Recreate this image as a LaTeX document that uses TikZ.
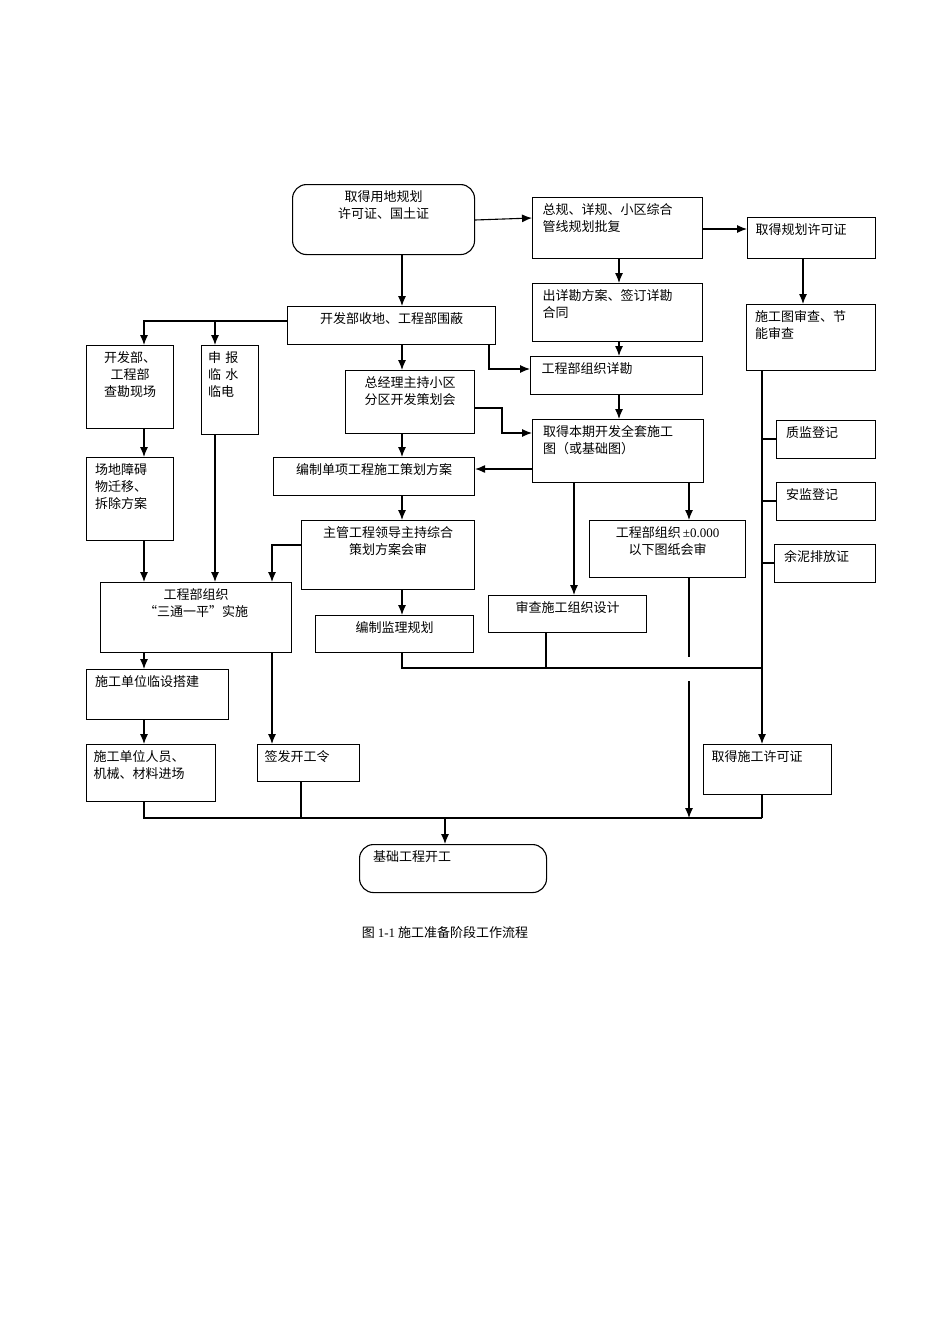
\documentclass[tikz,border=0pt]{standalone}
\usepackage{fontspec}
\setmainfont{Liberation Serif}
\newfontfamily\cjk{Noto Sans CJK SC}
\usetikzlibrary{arrows.meta}
\tikzset{
  box/.style={draw,line width=1.1pt,inner sep=0pt,anchor=north west},
  rbox/.style={box,rounded corners=14pt},
  lab/.style={anchor=north,yshift=-3pt,font=\cjk\fontsize{13}{17}\selectfont},
  arr/.style={line width=1.1pt,-{Latex[length=10pt,width=8pt]}},
  ln/.style={line width=1.1pt}
}
\begin{document}
\begin{tikzpicture}[x=1pt,y=-1pt]
\useasboundingbox (0,0) rectangle (950,1344);
% boxes
\node[rbox,minimum width=182,minimum height=70,label={[lab,align=center]north:取得用地规划\\许可证、国土证}] (yd) at (292,184) {};
\node[box,minimum width=170,minimum height=61,label={[lab,text width=150,align=left]north:总规、详规、小区综合\\管线规划批复}] (zg) at (532,197) {};
\node[box,minimum width=128,minimum height=41,label={[lab,text width=112,align=left]north:取得规划许可证}] (gh) at (747,217) {};
\node[box,minimum width=170,minimum height=58,label={[lab,text width=150,align=left]north:出详勘方案、签订详勘\\合同}] (xk) at (532,283) {};
\node[box,minimum width=129,minimum height=66,label={[lab,text width=112,align=left]north:施工图审查、节\\能审查}] (sc) at (746,304) {};
\node[box,minimum width=208,minimum height=38,label={[lab,align=center]north:开发部收地、工程部围蔽}] (sd) at (287,306) {};
\node[box,minimum width=87,minimum height=83,label={[lab,align=center]north:开发部、\\工程部\\查勘现场}] (kc) at (86,345) {};
\node[box,minimum width=57,minimum height=89,label={[lab,text width=44,align=left]north:申\ 报\\临\ 水\\临电}] (sb) at (201,345) {};
\node[box,minimum width=172,minimum height=38,label={[lab,text width=150,align=left]north:工程部组织详勘}] (zk) at (530,356) {};
\node[box,minimum width=129,minimum height=63,label={[lab,align=center]north:总经理主持小区\\分区开发策划会}] (ch) at (345,370) {};
\node[box,minimum width=171,minimum height=63,label={[lab,text width=150,align=left]north:取得本期开发全套施工\\图（或基础图）}] (qt) at (532,419) {};
\node[box,minimum width=201,minimum height=38,label={[lab,align=center]north:编制单项工程施工策划方案}] (dx) at (273,457) {};
\node[box,minimum width=87,minimum height=83,label={[lab,text width=70,align=left]north:场地障碍\\物迁移、\\拆除方案}] (za) at (86,457) {};
\node[box,minimum width=99,minimum height=38,label={[lab,text width=80,align=left]north:质监登记}] (zj) at (776,420) {};
\node[box,minimum width=99,minimum height=38,label={[lab,text width=80,align=left]north:安监登记}] (aj) at (776,482) {};
\node[box,minimum width=101,minimum height=38,label={[lab,text width=82,align=left]north:余泥排放证}] (yn) at (774,544) {};
\node[box,minimum width=173,minimum height=69,label={[lab,align=center]north:主管工程领导主持综合\\策划方案会审}] (hs) at (301,520) {};
\node[box,minimum width=156,minimum height=57,label={[lab,align=center]north:{工程部组织\,{\rmfamily ±0.000}}\\以下图纸会审}] (tz) at (589,520) {};
\node[box,minimum width=191,minimum height=70,label={[lab,align=center]north:工程部组织\\“三通一平”实施}] (st) at (100,582) {};
\node[box,minimum width=158,minimum height=37,label={[lab,align=center]north:审查施工组织设计}] (zz) at (488,595) {};
\node[box,minimum width=158,minimum height=37,label={[lab,align=center]north:编制监理规划}] (jl) at (315,615) {};
\node[box,minimum width=142,minimum height=50,label={[lab,text width=125,align=left]north:施工单位临设搭建}] (ls) at (86,669) {};
\node[box,minimum width=129,minimum height=57,label={[lab,text width=115,align=left]north:施工单位人员、\\机械、材料进场}] (jc) at (86,744) {};
\node[box,minimum width=102,minimum height=37,label={[lab,text width=88,align=left]north:签发开工令}] (kg) at (257,744) {};
\node[box,minimum width=128,minimum height=50,label={[lab,text width=112,align=left]north:取得施工许可证}] (xz) at (703,744) {};
\node[rbox,minimum width=187,minimum height=48,label={[lab,text width=160,align=left]north:基础工程开工}] (jg) at (359,844) {};
\coordinate (mid) at (445,818);
% connectors
\draw[arr] (yd.south -| 402,0) -- (sd.north -| 402,0);
\draw[arr] (yd.east |- 0,220) -- (zg.west |- 0,218);
\draw[arr] (zg.east |- 0,229) -- (gh.west |- 0,229);
\draw[arr] (zg.south -| 619,0) -- (xk.north -| 619,0);
\draw[arr] (gh.south -| 803,0) -- (sc.north -| 803,0);
\draw[arr] (xk.south -| 619,0) -- (zk.north -| 619,0);
\draw[arr] (sd.west |- 0,321) -- (144,321) -- (kc.north -| 144,0);
\draw[arr] (215,321) -- (sb.north -| 215,0);
\draw[arr] (sd.south -| 402,0) -- (ch.north -| 402,0);
\draw[arr] (sd.south -| 489,0) -- (489,369) -- (zk.west |- 0,369);
\draw[arr] (ch.east |- 0,408) -- (502,408) -- (502,433) -- (qt.west |- 0,433);
\draw[arr] (zk.south -| 619,0) -- (qt.north -| 619,0);
\draw[arr] (qt.west |- 0,469) -- (dx.east |- 0,469);
\draw[arr] (ch.south -| 402,0) -- (dx.north -| 402,0);
\draw[arr] (dx.south -| 402,0) -- (hs.north -| 402,0);
\draw[arr] (hs.west |- 0,545) -- (272,545) -- (st.north -| 272,0);
\draw[arr] (hs.south -| 402,0) -- (jl.north -| 402,0);
\draw[arr] (kc.south -| 144,0) -- (za.north -| 144,0);
\draw[arr] (za.south -| 144,0) -- (st.north -| 144,0);
\draw[arr] (sb.south -| 215,0) -- (st.north -| 215,0);
\draw[arr] (qt.south -| 574,0) -- (zz.north -| 574,0);
\draw[arr] (qt.south -| 689,0) -- (tz.north -| 689,0);
\draw[arr] (sc.south -| 762,0) -- (xz.north -| 762,0);
\foreach \t/\y in {zj/439,aj/501,yn/563}
  \draw[ln] (762,\y) -- (\t.west |- 0,\y);
\draw[ln] (tz.south -| 689,0) -- (689,657);
\draw[arr] (689,681) -- (mid -| 689,0);
\draw[ln] (jl.south -| 402,0) -- (402,668) -- (762,668);
\draw[ln] (zz.south -| 546,0) -- (546,668);
\draw[arr] (st.south -| 144,0) -- (ls.north -| 144,0);
\draw[arr] (st.south -| 272,0) -- (kg.north -| 272,0);
\draw[arr] (ls.south -| 144,0) -- (jc.north -| 144,0);
\draw[ln] (jc.south -| 144,0) -- (144,818) -- (762,818);
\draw[ln] (kg.south -| 301,0) -- (301,818);
\draw[ln] (xz.south -| 762,0) -- (762,818);
\draw[arr] (mid) -- (jg.north -| mid);
% caption
\node[font=\cjk\fontsize{13}{16}\selectfont] (cap) at (445,933) {图 {\rmfamily 1-1} 施工准备阶段工作流程};
\end{tikzpicture}
\end{document}
